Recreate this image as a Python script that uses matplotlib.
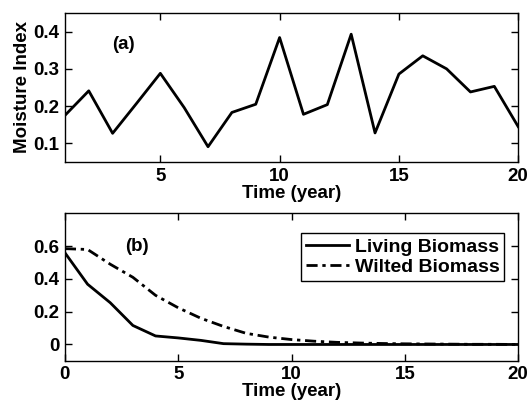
import matplotlib
matplotlib.use('Agg')
import matplotlib.pyplot as plt

plt.rcParams['font.family'] = ['Liberation Sans', 'DejaVu Sans']
plt.rcParams['font.weight'] = 'bold'
plt.rcParams['font.size'] = 13.5

# Panel (a): moisture index by year
years_a = list(range(1, 21))
moisture = [0.175, 0.241, 0.127, 0.207, 0.288, 0.196, 0.091, 0.183, 0.205, 0.384,
            0.178, 0.204, 0.393, 0.128, 0.286, 0.335, 0.300, 0.238, 0.253, 0.145]

# Panel (b): biomass decay
years_b = list(range(0, 21))
living = [0.56, 0.368, 0.255, 0.116, 0.052, 0.040, 0.025, 0.005, 0.002, 0.0,
          0.0, 0.0, 0.0, 0.0, 0.0, 0.0, 0.0, 0.0, 0.0, 0.0, 0.0]
wilted = [0.585, 0.58, 0.49, 0.41, 0.30, 0.224, 0.16, 0.11, 0.068, 0.045,
          0.03, 0.02, 0.013, 0.009, 0.006, 0.004, 0.003, 0.002, 0.001, 0.001, 0.0]

fig = plt.figure(figsize=(5.32, 4.05), dpi=100)
ax1 = fig.add_axes([0.122, 0.600, 0.852, 0.368])
ax2 = fig.add_axes([0.122, 0.109, 0.852, 0.364])

ax1.plot(years_a, moisture, color='black', lw=2)
ax1.set_xlim(1, 20)
ax1.set_ylim(0.05, 0.45)
ax1.set_xticks([5, 10, 15, 20])
ax1.set_yticks([0.1, 0.2, 0.3, 0.4])
ax1.set_xlabel('Time (year)', fontweight='bold', labelpad=0)
ax1.set_ylabel('Moisture Index', fontweight='bold', labelpad=2)
ax1.text(3.45, 0.365, '(a)', fontweight='bold', ha='center', va='center')

ax2.plot(years_b, living, color='black', lw=2, label='Living Biomass')
ax2.plot(years_b, wilted, color='black', lw=2, ls=(0, (4, 1.7, 1.2, 1.7)), label='Wilted Biomass')
ax2.set_xlim(0, 20)
ax2.set_ylim(-0.1, 0.8)
ax2.set_xticks([0, 5, 10, 15, 20])
ax2.set_yticks([0, 0.2, 0.4, 0.6])
ax2.set_yticklabels(['0', '0.2', '0.4', '0.6'])
ax2.set_xlabel('Time (year)', fontweight='bold', labelpad=0)
ax2.text(3.2, 0.6, '(b)', fontweight='bold', ha='center', va='center')
leg = ax2.legend(loc='upper right', fancybox=False, framealpha=1, edgecolor='black',
                 fontsize=14, borderpad=0.25, handlelength=2.2, handletextpad=0.3,
                 labelspacing=0.15, borderaxespad=0,
                 bbox_to_anchor=(0.969, 0.867))
leg.get_frame().set_linewidth(1)

for ax in (ax1, ax2):
    ax.tick_params(direction='in', top=True, right=True, length=5, width=1, pad=4)
    for s in ax.spines.values():
        s.set_linewidth(1)

fig.savefig('out.png', dpi=100)
